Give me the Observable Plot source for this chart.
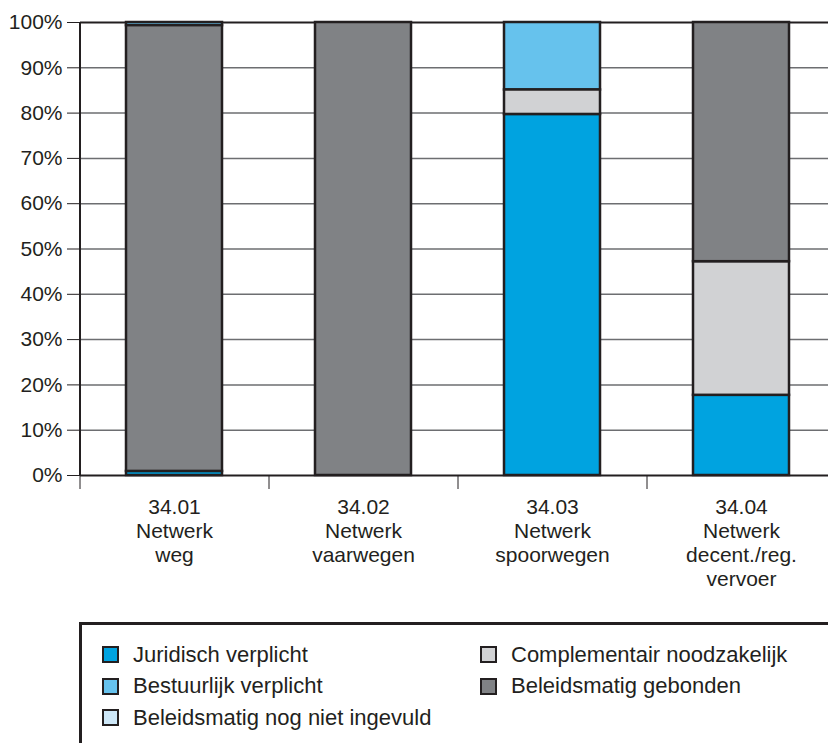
<!DOCTYPE html>
<html><head><meta charset="utf-8">
<script src="https://cdn.jsdelivr.net/npm/d3@7"></script>
<script src="https://cdn.jsdelivr.net/npm/@observablehq/plot@0.6"></script>
<style>
body{margin:0;width:828px;height:743px;overflow:hidden;background:#fff;font-family:"Liberation Sans",Arial,sans-serif;color:#231f20;position:relative}
#chart svg{display:block}
#legend{position:absolute;left:79px;top:622px;width:820px;height:160px;border:3px solid #231f20;box-sizing:border-box;padding:14px 0 0 20px;display:grid;grid-template-columns:378px auto;grid-auto-rows:31.5px;font-size:22px;align-content:start}
.item{display:flex;align-items:center;white-space:nowrap}
.sw{width:17px;height:17px;box-sizing:border-box;border:2px solid #231f20;margin-right:14px;flex:none}
</style></head><body>
<div id="chart"></div><div id="legend"></div>
<script>
const categories = ["34.01", "34.02", "34.03", "34.04"];
const catLabels = ["34.01\nNetwerk\nweg", "34.02\nNetwerk\nvaarwegen", "34.03\nNetwerk\nspoorwegen", "34.04\nNetwerk\ndecent./reg.\nvervoer"];
const series = ["Juridisch verplicht", "Bestuurlijk verplicht", "Beleidsmatig nog niet ingevuld", "Complementair noodzakelijk", "Beleidsmatig gebonden"];
const colors = ["#00a3e0", "#66c2ed", "#cde7f7", "#d1d2d4", "#808285"];
// values per series (percent), same order as categories
const juridisch = [0.9, 0, 79.7, 17.7];
const bestuurlijk = [0.7, 0, 14.9, 0];
const nogNiet = [0, 0, 0, 0];
const complementair = [0, 0, 5.4, 29.5];
const gebonden = [98.4, 100, 0, 52.8];
const stackOrder = ["Juridisch verplicht", "Complementair noodzakelijk", "Beleidsmatig gebonden", "Bestuurlijk verplicht", "Beleidsmatig nog niet ingevuld"];
const yTicks = [0, 10, 20, 30, 40, 50, 60, 70, 80, 90, 100];
const legendOrder = ["Juridisch verplicht", "Complementair noodzakelijk", "Bestuurlijk verplicht", "Beleidsmatig gebonden", "Beleidsmatig nog niet ingevuld"];

const valuesBySeries = {
  "Juridisch verplicht": juridisch,
  "Bestuurlijk verplicht": bestuurlijk,
  "Beleidsmatig nog niet ingevuld": nogNiet,
  "Complementair noodzakelijk": complementair,
  "Beleidsmatig gebonden": gebonden
};
const rows = [];
series.forEach(s => categories.forEach((c, i) => {
  const v = valuesBySeries[s][i];
  if (v > 0) rows.push({cat: c, series: s, value: v});
}));
const labelOf = new Map(categories.map((c, i) => [c, catLabels[i]]));
const W = 828, H = 600, mL = 80;
const xRange = [mL, mL + 189 * categories.length];
const step = (xRange[1] - xRange[0]) / categories.length;
const ink = "#231f20";

const plot = Plot.plot({
  width: W, height: H, marginLeft: mL, marginRight: 0, marginTop: 22, marginBottom: 125,
  style: {fontFamily: "'Liberation Sans', Arial, sans-serif", color: ink, background: "#fff", overflow: "hidden"},
  x: {domain: categories, range: xRange, paddingInner: 0.49, paddingOuter: 0.245, axis: null, label: null},
  y: {domain: [0, 100], axis: null, label: null},
  color: {domain: series, range: colors},
  marks: [
    Plot.gridY(yTicks.filter(t => t > 0 && t < 100), {stroke: "#6d6e71", strokeOpacity: 1, strokeWidth: 1.5}),
    Plot.ruleY([0, 100], {stroke: ink, strokeWidth: 2}),
    Plot.barY(rows, Plot.stackY({x: "cat", y: "value", fill: "series", order: stackOrder, stroke: ink, strokeWidth: 2.5})),
    Plot.ruleX([categories[0]], {x: d => d, dx: -step / 2, y1: () => 0, y2: () => 100, stroke: ink, strokeWidth: 2}),
    Plot.axisY(yTicks, {tickSize: 13, tickPadding: 5, tickFormat: d => d + "%", fontSize: 21, color: ink, label: null}),
    Plot.axisX(categories, {tickSize: 14, tickFormat: () => "", dx: -step / 2, color: ink, label: null}),
    Plot.text(categories, {x: d => d, y: () => 0, text: d => labelOf.get(d), lineAnchor: "top", dy: 21, lineHeight: 1.15, fontSize: 21, fill: ink})
  ]
});
document.getElementById("chart").appendChild(plot);

const legend = document.getElementById("legend");
legendOrder.forEach(s => {
  const item = document.createElement("div");
  item.className = "item";
  const sw = document.createElement("span");
  sw.className = "sw";
  sw.style.background = colors[series.indexOf(s)];
  const t = document.createElement("span");
  t.textContent = s;
  item.appendChild(sw);
  item.appendChild(t);
  legend.appendChild(item);
});
</script>
</body></html>
